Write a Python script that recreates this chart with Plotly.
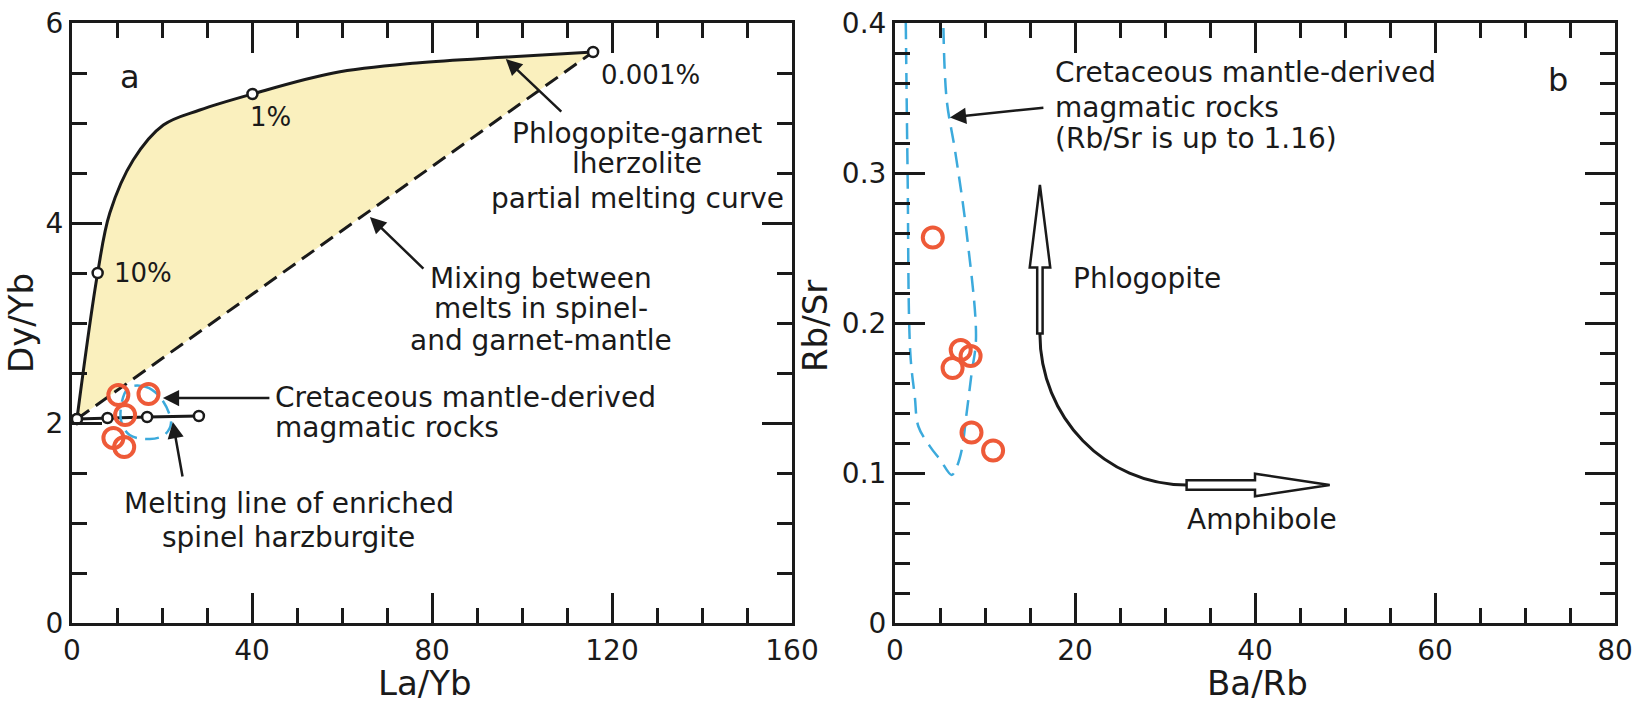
import plotly.graph_objects as go

# ---------------- Panel a: La/Yb vs Dy/Yb ----------------
# phlogopite-garnet lherzolite partial melting curve
melt_x = [1.1, 5.7, 8.4, 13.6, 20.3, 28.4, 40.1, 58.1, 76.6, 96.7, 115.8]
melt_y = [2.04, 3.50, 4.10, 4.63, 4.98, 5.13, 5.29, 5.50, 5.60, 5.66, 5.71]
# labelled melt-fraction points on the curve
melt_mark_x = [1.1, 5.7, 40.1, 115.8]
melt_mark_y = [2.04, 3.50, 5.29, 5.71]
melt_mark_labels = ["", "10%", "1%", "0.001%"]
# spinel / garnet mantle melt mixing line
mix_x = [1.1, 115.8]
mix_y = [2.04, 5.71]
# enriched spinel harzburgite melting line
harz_x = [1.1, 7.9, 16.7, 28.2]
harz_y = [2.04, 2.05, 2.06, 2.07]
# Cretaceous mantle-derived rocks: field outline and samples
field_a_x = [12.5, 16.5, 19.9, 22.0, 20.5, 17.3, 12.8, 10.8, 12.5]
field_a_y = [2.35, 2.36, 2.24, 2.00, 1.88, 1.84, 1.88, 2.05, 2.35]
rock_a_x = [10.3, 17.0, 11.8, 9.2, 11.6]
rock_a_y = [2.28, 2.29, 2.08, 1.85, 1.76]

# ---------------- Panel b: Ba/Rb vs Rb/Sr ----------------
field_b_x = [1.2, 1.4, 1.7, 2.2, 2.6, 3.9, 5.0, 6.3, 6.85, 7.4, 7.96, 8.5, 9.0, 7.96, 6.67, 5.74, 5.37]
field_b_y = [0.40, 0.30, 0.18, 0.151, 0.131, 0.1176, 0.109, 0.0987, 0.104, 0.115, 0.14, 0.166,
             0.19, 0.26, 0.315, 0.349, 0.40]
rock_b_x = [4.2, 6.4, 7.3, 8.4, 8.5, 10.9]
rock_b_y = [0.257, 0.170, 0.182, 0.178, 0.127, 0.115]

INK = "#1a1a1a"
RED = "#EE5A38"
BLUE = "#3CAADC"
FILL = "#FAF0BE"
FONT = "DejaVu Sans"

fig = go.Figure()

# mixing line first so the melting curve can fill down to it
fig.add_trace(go.Scatter(x=mix_x, y=mix_y, mode="lines", xaxis="x", yaxis="y",
                         line=dict(color=INK, width=3, dash="15px,8px")))
fig.add_trace(go.Scatter(x=melt_x, y=melt_y, mode="lines", xaxis="x", yaxis="y",
                         fill="tonexty", fillcolor=FILL,
                         line=dict(color=INK, width=3, shape="spline")))
fig.add_trace(go.Scatter(x=harz_x, y=harz_y, mode="lines+markers", xaxis="x", yaxis="y",
                         line=dict(color=INK, width=3),
                         marker=dict(symbol="circle", size=10, color="white",
                                     line=dict(color=INK, width=2.5))))
fig.add_trace(go.Scatter(x=field_a_x, y=field_a_y, mode="lines", xaxis="x", yaxis="y",
                         line=dict(color=BLUE, width=2.5, dash="14px,8px", shape="spline")))
fig.add_trace(go.Scatter(x=rock_a_x, y=rock_a_y, mode="markers", xaxis="x", yaxis="y",
                         marker=dict(symbol="circle-open", size=20, color=RED,
                                     line=dict(width=4))))
fig.add_trace(go.Scatter(x=melt_mark_x, y=melt_mark_y, mode="markers", xaxis="x", yaxis="y",
                         marker=dict(symbol="circle", size=10, color="white",
                                     line=dict(color=INK, width=2.5))))

fig.add_trace(go.Scatter(x=field_b_x, y=field_b_y, mode="lines", xaxis="x2", yaxis="y2",
                         line=dict(color=BLUE, width=2.5, dash="16px,9px", shape="spline")))
fig.add_trace(go.Scatter(x=rock_b_x, y=rock_b_y, mode="markers", xaxis="x2", yaxis="y2",
                         marker=dict(symbol="circle-open", size=20, color=RED,
                                     line=dict(width=4))))


def axis(rng, dtick, minor, domain, anchor):
    return dict(range=rng, dtick=dtick, tick0=0, domain=domain, anchor=anchor,
                automargin=False, ticklabeloverflow="allow",
                showline=True, linecolor=INK, linewidth=3, mirror="ticks",
                ticks="inside", ticklen=30, tickwidth=3, tickcolor=INK,
                showgrid=False, zeroline=False, fixedrange=True,
                ticklabelstandoff=0,
                tickfont=dict(family=FONT, size=28, color=INK),
                minor=dict(dtick=minor, tick0=0, ticks="inside", ticklen=15,
                           tickwidth=3, tickcolor=INK, showgrid=False))


Y_DOM = [81 / 704, 681 / 704]
fig.update_layout(
    template="none",
    width=1632, height=704, showlegend=False,
    margin=dict(l=0, r=0, t=0, b=0),
    paper_bgcolor="white", plot_bgcolor="white",
    xaxis=axis([0, 160], 40, 10, [72 / 1632, 792 / 1632], "y"),
    yaxis=axis([0, 6], 2, 0.5, Y_DOM, "x"),
    xaxis2=axis([0, 80], 20, 5, [895 / 1632, 1615 / 1632], "y2"),
    yaxis2=axis([0, 0.4], 0.1, 0.02, Y_DOM, "x2"),
)

ann = []


def text(x, y, s, ax="x", size=28, anchor="center"):
    ann.append(dict(x=x, y=y, xref=ax, yref="y" + ax[1:], text=s, showarrow=False,
                    xanchor=anchor, yanchor="middle",
                    font=dict(family=FONT, size=size, color=INK)))


def arrow(x, y, dx, dy, ax="x"):
    ann.append(dict(x=x, y=y, xref=ax, yref="y" + ax[1:], text="", showarrow=True,
                    ax=dx, ay=dy, arrowhead=2, arrowsize=1.3, arrowwidth=2.5,
                    arrowcolor=INK, standoff=0, font=dict(size=1)))


# melt fraction labels beside their points
shifts = {"10%": (45, 0), "1%": (18, -23), "0.001%": (57, -23)}
for mx, my, lab in zip(melt_mark_x, melt_mark_y, melt_mark_labels):
    if lab:
        sx, sy = shifts[lab]
        ann.append(dict(x=mx, y=my, xref="x", yref="y", text=lab, showarrow=False,
                        xshift=sx, yshift=sy, xanchor="center", yanchor="middle",
                        font=dict(family=FONT, size=26, color=INK)))

# panel a annotations
text(12.9, 5.46, "a", size=32)
for yy, s in zip([4.90, 4.60, 4.25], ["Phlogopite-garnet", "lherzolite", "partial melting curve"]):
    text(125.6, yy, s)
arrow(96.4, 5.64, 57, 54)
for yy, s in zip([3.45, 3.15, 2.83], ["Mixing between", "melts in spinel-", "and garnet-mantle"]):
    text(104.2, yy, s)
arrow(66.2, 4.06, 55, 53)
for yy, s in zip([2.26, 1.96], ["Cretaceous mantle-derived", "magmatic rocks"]):
    text(44.7, yy, s, anchor="left")
arrow(20.2, 2.25, 108, 0)
for yy, s in zip([1.20, 0.86], ["Melting line of enriched", "spinel harzburgite"]):
    text(48.2, yy, s)
arrow(22.4, 2.01, 10, 56)

# panel b annotations
text(73.7, 0.362, "b", ax="x2", size=32)
for yy, s in zip([0.367, 0.344, 0.323],
                 ["Cretaceous mantle-derived", "magmatic rocks", "(Rb/Sr is up to 1.16)"]):
    text(17.6, yy, s, ax="x2", anchor="left")
arrow(6.1, 0.337, 95, -10, ax="x2")
text(28.0, 0.230, "Phlogopite", ax="x2")
text(40.8, 0.0687, "Amphibole", ax="x2")

# axis titles
for x, y, s, ang in [(21 / 1632, 1 - 323 / 704, "Dy/Yb", -90),
                     (815 / 1632, 1 - 326 / 704, "Rb/Sr", -90),
                     (425 / 1632, 1 - 683 / 704, "La/Yb", 0),
                     (1257 / 1632, 1 - 683 / 704, "Ba/Rb", 0)]:
    ann.append(dict(x=x, y=y, xref="paper", yref="paper", text=s, showarrow=False,
                    textangle=ang, xanchor="center", yanchor="middle",
                    font=dict(family=FONT, size=34, color=INK)))

fig.update_layout(annotations=ann)

# hollow trend arrows in panel b (phlogopite upward, amphibole rightward)
up_arrow = ("M 15.8,0.193 L 15.8,0.237 L 14.97,0.237 L 16.1,0.292 "
            "L 17.25,0.237 L 16.4,0.237 L 16.4,0.193 Z")
bend = "M 16.1,0.193 C 16.1,0.137 23.4,0.092 32.4,0.092"
right_arrow = ("M 32.4,0.0888 L 40,0.0888 L 40,0.0845 L 48.3,0.092 "
               "L 40,0.0995 L 40,0.0952 L 32.4,0.0952 Z")
fig.update_layout(shapes=[
    dict(type="path", path=bend, xref="x2", yref="y2", line=dict(color=INK, width=3)),
    dict(type="path", path=up_arrow, xref="x2", yref="y2", fillcolor="white",
         line=dict(color=INK, width=2.5)),
    dict(type="path", path=right_arrow, xref="x2", yref="y2", fillcolor="white",
         line=dict(color=INK, width=2.5)),
])

fig.write_html("out.html")
